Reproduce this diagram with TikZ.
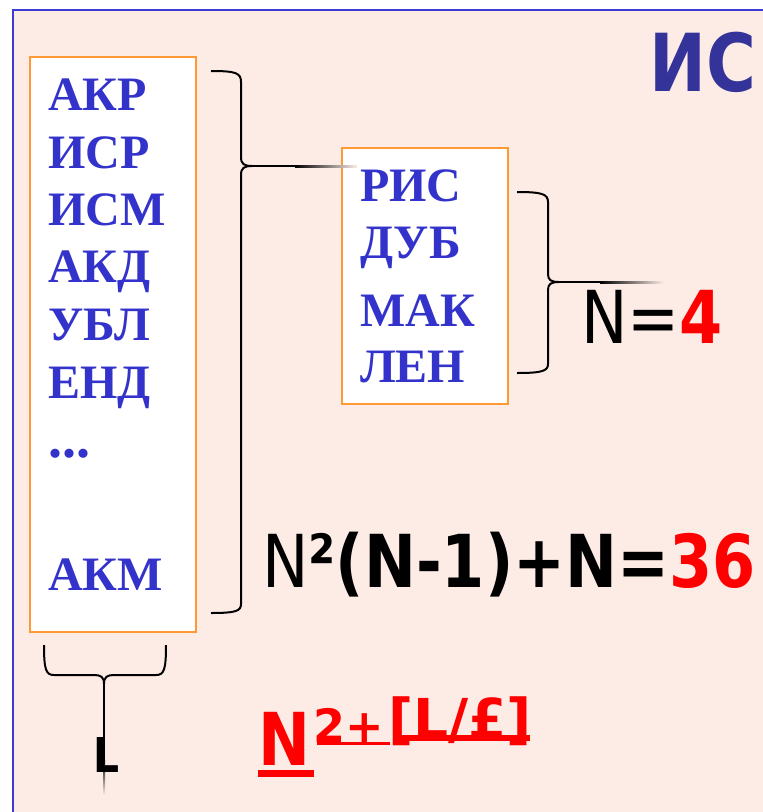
\documentclass[tikz,border=0pt]{standalone}
\usepackage{fontspec}
\setmainfont{Liberation Serif}
\newfontfamily\tah[FakeStretch=0.85]{DejaVu Sans}
\newfontfamily\tahw{DejaVu Sans}
\usetikzlibrary{positioning}
\definecolor{bgpink}{RGB}{253,236,230}
\definecolor{frameblue}{RGB}{60,60,210}
\definecolor{itemblue}{RGB}{51,51,204}
\definecolor{titleblue}{RGB}{51,51,153}
\definecolor{boxorange}{RGB}{255,153,51}
\tikzset{
  frame/.style={draw=frameblue, line width=2.2pt},
  lstbox/.style={draw=boxorange, fill=white, line width=1.6pt, inner sep=0pt, anchor=north west},
  itm/.style={anchor=base west, inner sep=0pt, text=itemblue, font=\fontsize{48}{48}\selectfont\bfseries},
  frm/.style={anchor=base west, inner sep=0pt, font=\fontsize{73}{73}\selectfont\tah},
  redfrm/.style={anchor=base west, inner sep=0pt, text=red, font=\fontsize{#1}{#1}\selectfont\tah\bfseries},
  redsup/.style={anchor=base west, inner sep=0pt, text=red, font=\fontsize{#1}{#1}\selectfont\tahw\bfseries},
  brc/.style={line width=2pt, black},
  ul/.style={draw=red, line width=#1},
}
\begin{document}
\begin{tikzpicture}[x=1pt, y=-1pt]
\useasboundingbox (0,0) rectangle (763,812);
\fill[white] (0,0) rectangle (763,812);
\fill[bgpink] (13,10) rectangle (763,812);
\draw[frame] (13,812) -- (13,10) -- (763,10);

% the two lists
\node[lstbox, minimum width=166pt, minimum height=575pt] (biglist) at (29,56) {};
\node[lstbox, minimum width=166pt, minimum height=256pt] (smalllist) at (341,147) {};

\node[itm] (akr) at (48,110) {АКР};
\node[itm] (isr) at ([yshift=-58pt]akr.base west) {ИСР};
\node[itm] (ism) at ([yshift=-57pt]isr.base west) {ИСМ};
\node[itm] (akd) at ([yshift=-57pt]ism.base west) {АКД};
\node[itm] (ubl) at ([yshift=-58pt]akd.base west) {УБЛ};
\node[itm] (end) at ([yshift=-58pt]ubl.base west) {ЕНД};
\node[itm, font=\fontsize{56}{56}\selectfont\bfseries] (dots) at ([yshift=-59pt]end.base west) {...};
\node[itm] (akm) at (48,590) {АКМ};

\node[itm] (ris) at (360,201) {РИС};
\node[itm] (dub) at ([yshift=-57pt]ris.base west) {ДУБ};
\node[itm] (mak) at ([yshift=-68pt]dub.base west) {МАК};
\node[itm] (len) at ([yshift=-56pt]mak.base west) {ЛЕН};

% braces
\draw[brc] (211,71) .. controls (236,71) and (241,73) .. (241,82) -- (241,157)
  .. controls (241,164) and (244,166) .. (252,166) .. controls (244,166) and (241,168) .. (241,175)
  -- (241,604) .. controls (241,611) and (236,613) .. (211,613);
\draw[brc] (252,166) -- (295,166);
\shade[left color=black, right color=bgpink] (295,165) rectangle (357,167);

\draw[brc] (517,192) .. controls (542,192) and (548,194) .. (548,202) -- (548,274)
  .. controls (548,280) and (551,282) .. (559,282) .. controls (551,282) and (548,284) .. (548,290)
  -- (548,364) .. controls (548,371) and (542,373) .. (517,373);
\draw[brc] (559,282) -- (600,282);
\shade[left color=black, right color=bgpink] (600,281) rectangle (664,283);

\draw[brc] (44,645) .. controls (44,670) and (46,675) .. (54,675) -- (94,675)
  .. controls (101,675) and (104,677) .. (104,684) .. controls (104,677) and (107,675) .. (114,675)
  -- (156,675) .. controls (164,675) and (166,670) .. (166,645);
\draw[brc] (104,684) -- (104,760);
\shade[top color=black, bottom color=bgpink] (103,760) rectangle (105,795);

% labels and formulas
\node[anchor=base east, inner sep=0pt, text=titleblue, font=\fontsize{80}{80}\selectfont\tah\bfseries] (ttl) at (757,91) {ИС};
\node[frm] (nfour) at (581,343) {N=\textcolor{red}{\bfseries 4}};
\node[frm] (ncount) at (262,587) {N{\bfseries ²(N-1)+N=\textcolor{red}{36}}};
\node[anchor=base, inner sep=0pt, font=\fontsize{48}{48}\selectfont\tah\bfseries] (lbl) at (106,772) {L};

\node[redfrm=73] (nexp) at (258,765) {N};
\node[redsup=46] (pw) at (313,742) {2+};
\node[redsup=55] (fl) at (388,738) {[L/£]};
\draw[ul=7pt] ([yshift=-8.5pt]nexp.base west) -- ([yshift=-8.5pt,xshift=4pt]nexp.base east);
\draw[ul=3pt] ([shift={(4pt,-1.5pt)}]pw.base west) -- ++(73,0);
\draw[ul=6pt] ([shift={(5pt,0pt)}]fl.base west) -- ([shift={(-2pt,0pt)}]fl.base east);
\end{tikzpicture}
\end{document}
